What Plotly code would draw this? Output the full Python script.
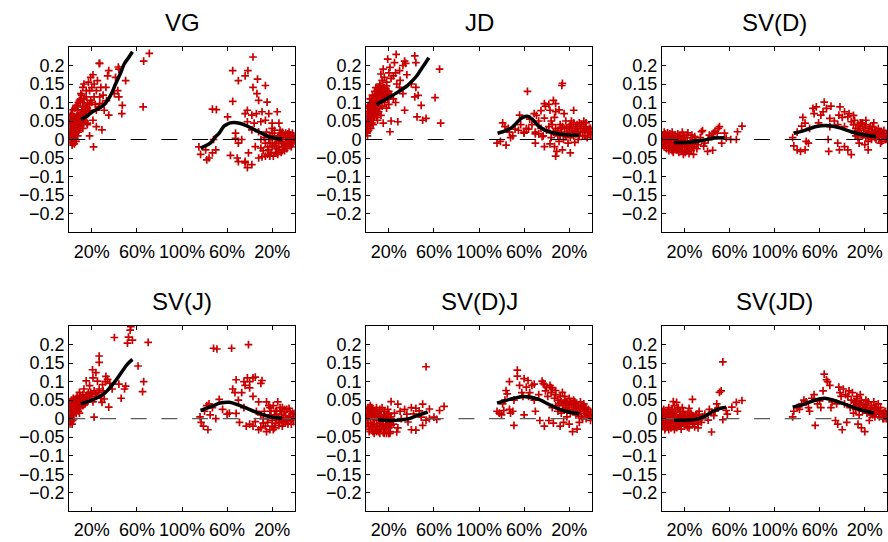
import plotly.graph_objects as go

# ---------------- data ----------------
titles = ["VG", "JD", "SV(D)", "SV(J)", "SV(D)J", "SV(JD)"]
x_tickvals = [20, 60, 100, 140, 180]
x_ticktext = ["20%", "60%", "100%", "60%", "20%"]
y_tickvals = [-0.2, -0.15, -0.1, -0.05, 0, 0.05, 0.1, 0.15, 0.2]
y_ticktext = ["\u22120.2", "\u22120.15", "\u22120.1", "\u22120.05", "0", "0.05", "0.1", "0.15", "0.2"]

VG_POINTS = [
    (0.5,0.01),(1,0.03),(1,-0.005),(1.5,0.02),(2,0.045),(2,0.0),(2.5,0.015),(3,0.035),(3,-0.01),(3.5,0.025),
    (4,0.05),(4,0.005),(4.5,0.04),(5,0.015),(5,0.06),(5.5,0.03),(6,0.045),(6,-0.005),(6.5,0.02),(7,0.055),
    (7,0.035),(7.5,0.01),(8,0.065),(8,0.04),(8.5,0.025),(9,0.05),(9.5,0.07),(10,0.035),(10,0.06),(11,0.045),
    (11,0.08),(12,0.055),(12,0.03),(13,0.07),(14,0.05),(15,0.065),(0.5,0.045),(1.5,0.055),(2.5,-0.015),(3.5,0.06),
    (4.5,-0.012),(16,0.04),(18,0.01),(17,0.075),
    (0.3,0.02),(0.8,0.0),(1.2,0.04),(1.8,0.01),(2.2,0.03),(2.8,0.05),(3.2,0.005),(3.8,0.04),(4.2,0.02),(4.8,0.055),
    (5.2,0.0),(5.8,0.04),(6.2,0.025),(6.8,0.065),(7.2,0.045),(7.8,0.02),(8.2,0.05),(8.8,0.035),(9.2,0.06),(9.8,0.045),
    (10.5,0.07),(11.5,0.06),(12.5,0.045),(13.5,0.06),(14.5,0.075),(0.3,0.06),(1.0,0.065),(2.0,0.07),(3.0,0.08),(5.0,0.085),
    (7.0,0.09),(8.0,0.1),(10,0.11),(11,0.12),(14,0.09),(16,0.085),(18,0.095),(20,0.1),(12,0.1),
    (9,0.106),(10.3,0.124),(12,0.141),(13,0.15),(15,0.115),(16,0.097),(18,0.132),(19,0.168),(21,0.175),(22,0.15),
    (24,0.132),(25,0.159),(26.5,0.206),(27,0.206),(27,0.115),(28,0.141),(29.5,0.097),(31,0.079),(32.5,0.141),(34,0.172),
    (35,0.186),(35,0.066),(29,0.026),(21.5,-0.02),(18,0.079),(15,0.07),(21,0.052),(24,0.035),(12,0.088),(7.4,0.079),
    (6,0.092),(9,0.061),(16,0.044),(24,0.079),(27,0.097),(19,0.106),(13,0.11),(15,0.132),(10,0.101),(22,0.115),
    (43.5,0.196),(44,0.19),(41,0.168),(50,0.159),(44,0.115),(47,0.092),(46.6,0.07),(66,0.212),(71,0.233),(65.5,0.088),
    (43,0.132),(40,0.124),(20,0.14),(17,0.155),(23,0.095),(30,0.12),(26,0.088),(33,0.105),
    (115,-0.02),(116.5,-0.04),(121,-0.028),(124,-0.05),(127,-0.036),(130,-0.028),(122,-0.055),(128,0.0),(127,0.082),(130.5,0.081),
    (140.5,0.061),(143,-0.043),(145,0.103),(147.5,0.017),(149,-0.05),(150,-0.06),(150,0.159),(145,0.186),(158.5,0.186),(156,0.172),
    (163,0.223),(167,0.163),(163,0.141),(166.5,0.124),(168,0.106),(174,0.146),(175.5,0.101),(156,0.07),(158,0.079),(162,0.066),
    (166,0.07),(171,0.075),(177,0.07),(184.5,0.075),(158,0.048),(164,0.044),(170,0.048),(174,0.052),(180,0.044),(186,0.044),
    (162,0.026),(168,0.021),(180,0.017),(156,-0.063),(158,-0.076),(162,-0.068),(156,-0.059),(153,0.0),(159,-0.036),(168,-0.05),
    (171,-0.047),(174,-0.045),(177,-0.028),(180,-0.019),(183,-0.01),(189,-0.01),(193,0.0),(198,0.008),(197,-0.01),(192,-0.019),
    (186,-0.028),(183,-0.036),(174,-0.01),(177,0.0),(187,0.017),(192,0.017),(198,0.017),(180,0.03),(170,-0.023),(165,-0.019),
    (147.5,0.003),(150,-0.01),(185,0.005),(188,-0.005),(190,0.01),(191,-0.015),(194,0.005),(195,-0.005),(196,0.012),(199,0.0),
    (199.5,0.005),(197,-0.02),(193,-0.025),(189,-0.03),(186,-0.02),(184,0.0),(182,-0.015),(179,-0.035),(181,-0.045),(176,-0.04),
    (187,0.025),(195,0.02),(200,-0.005),(178,0.01),(172,-0.03),
    (176,-0.02),(178,-0.01),(180,0.0),(182,0.01),(184,-0.025),(186,0.0),(188,0.012),(190,-0.02),(192,0.005),(193,-0.01),
    (195,0.01),(196,-0.015),(198,-0.005),(199,0.01),(200,0.003),(185,-0.04),(188,-0.035),(191,-0.03),(178,-0.045),(182,0.025),
    (189,0.02),(194,0.015),(197,0.005),(175,0.02),(170,0.0),(173,0.005),
]
VG_FIT_LEFT = [(10.3,0.054),(15,0.062),(20.6,0.075),(29.5,0.09),(34,0.106),(38,0.128),(41,0.15),(45.7,0.181),(48.7,0.204),(53,0.223),(56,0.237)]
VG_FIT_RIGHT = [(116.5,-0.023),(125,-0.01),(130,0.008),(133,0.017),(137,0.035),(140,0.041),(143,0.045),(146,0.046),(151,0.044),(156,0.039),(162,0.03),(168,0.021),(174,0.012),(180,0.005),(185,0.002),(189,0.001)]

JD_POINTS = [
    (0.5,0.02),(1,0.035),(1.5,0.05),(2,0.06),(2.5,0.04),(3,0.075),(3.5,0.055),(4,0.085),(4.5,0.065),(5,0.1),
    (5.5,0.075),(6,0.09),(6.5,0.11),(7,0.06),(7.5,0.095),(8,0.12),(8.5,0.08),(9,0.105),(9.5,0.13),(10,0.09),
    (10.5,0.115),(11,0.14),(11.5,0.1),(12,0.125),(13,0.11),(13.5,0.135),(14,0.09),(15,0.12),(16,0.1),(17,0.13),
    (18,0.085),(19,0.11),(20,0.095),(1,0.07),(2,0.09),(3,0.11),(4,0.03),(5,0.045),(6,0.06),(7,0.08),
    (8,0.07),(9,0.06),(10,0.07),(11,0.075),(12,0.085),(13,0.065),(14,0.16),(16,0.14),(18,0.125),(20,0.13),
    (22,0.12),(24,0.11),(26,0.1),(0.3,0.055),(0.8,0.085),
    (0.5,0.04),(1,0.05),(1.5,0.065),(2,0.075),(2.5,0.085),(3,0.09),(3.5,0.095),(4,0.1),(4.5,0.11),(5,0.07),
    (5.5,0.12),(6,0.1),(6.5,0.085),(7,0.115),(7.5,0.13),(8,0.1),(8.5,0.14),(9,0.12),(9.5,0.09),(10,0.135),
    (10.5,0.1),(11,0.12),(12,0.145),(12.5,0.105),(13,0.13),(14,0.115),(15,0.14),(16,0.12),(17,0.11),(18,0.145),
    (19,0.13),(20,0.115),(3,0.05),(6,0.04),(2,0.025),(1,0.01),(0.3,0.03),
    (26.5,0.23),(19,0.217),(21,0.195),(25,0.208),(34,0.212),(35,0.206),(43,0.226),(44,0.208),(32.5,0.2),(29.5,0.186),
    (15,0.19),(16,0.168),(13,0.177),(12,0.15),(18,0.155),(24,0.172),(27,0.15),(29.5,0.141),(32.5,0.124),(40,0.15),
    (44,0.141),(43,0.115),(46,0.119),(48.7,0.092),(45,0.061),(50,0.052),(53,0.057),(65,0.19),(61,0.113),(66,0.044),
    (34,0.079),(28,0.048),(22,0.05),(15,0.044),(21,0.021),(10,0.052),(6,0.079),(4.4,0.097),(3,0.07),(1.5,0.044),
    (0.6,0.017),(22,0.165),(26,0.18),(30,0.16),(36,0.175),(20,0.18),
    (116,-0.01),(119,-0.005),(124,-0.015),(121,0.045),(123,0.035),(126,0.03),(127,0.02),(130,0.01),(128,0.005),(132,0.028),
    (135,0.025),(137,0.04),(140,0.02),(142,0.03),(143,0.13),(145,0.055),(147,0.04),(150,0.015),(151,0.065),(153,0.05),
    (155,0.078),(158,0.058),(159,0.09),(162,0.095),(164,0.05),(165,0.04),(167,0.06),(168,0.075),(171,0.08),
    (173.5,0.146),(174,0.152),(158,0.097),(166,0.106),(168,0.097),(163,0.079),(175.5,0.07),(184,0.079),(149,0.07),
    (136,0.066),(144,0.028),(140,0.017),(156,0.008),(158,-0.019),(167,-0.019),(168,-0.045),(169,-0.032),(174,-0.028),
    (181,-0.036),(150,-0.01),
    (150,0.02),(153,0.015),(155,0.03),(157,0.01),(160,0.025),(162,0.035),(164,0.005),(166,0.02),(168,0.03),(170,0.01),
    (172,0.04),(173,0.02),(175,0.0),(176,0.03),(178,0.015),(180,0.035),(181,0.005),(183,0.025),(184,0.045),(186,0.015),
    (187,0.03),(188,0.0),(190,0.02),(191,0.04),(192,0.01),(194,0.025),(195,0.035),(196,0.005),(197,0.02),(198,0.03),
    (199,0.012),(200,0.025),(185,-0.008),(179,-0.01),(171,-0.005),(163,-0.012),(182,0.05),(189,0.045),(193,0.05),(177,0.05),
    (170,0.025),(172,0.012),(174,0.035),(176,0.015),(178,0.03),(180,0.02),(182,0.03),(184,0.01),(186,0.035),(188,0.02),
    (189,0.01),(190,0.03),(192,0.02),(193,0.035),(194,0.01),(196,0.025),(198,0.02),(199,0.03),(200,0.01),(185,0.022),
    (181,0.04),(177,0.008),(173,0.03),(195,0.045),(187,0.04),
]
JD_FIT_LEFT = [(9,0.095),(15,0.105),(20.6,0.115),(27,0.126),(32.5,0.137),(37,0.147),(41,0.159),(45,0.173),(48.7,0.19),(52,0.205),(55.5,0.221)]
JD_FIT_RIGHT = [(116.5,0.017),(124,0.024),(129,0.032),(133,0.044),(136,0.053),(139,0.06),(143,0.063),(147.5,0.054),(153,0.036),(158,0.026),(162,0.021),(171,0.015),(180,0.012),(189,0.012)]

SVD_POINTS = [
    (0.5,0.0),(1,0.01),(1,-0.01),(2,0.005),(2,-0.02),(3,0.015),(3,-0.005),(4,0.0),(4,-0.025),(5,0.01),
    (5,-0.015),(6,0.005),(6,-0.03),(7,-0.01),(7,0.015),(8,0.0),(8,-0.02),(9,-0.03),(9,0.008),(10,-0.012),
    (10,-0.035),(11,0.002),(11,-0.022),(12,-0.008),(12,0.012),(13,-0.028),(13,0.0),(14,-0.015),(15,0.005),(15,-0.035),
    (16,-0.02),(17,0.0),(17,-0.03),(18,-0.01),(19,-0.04),(19,0.01),(20,-0.02),(21,-0.005),(22,-0.03),(22,0.012),
    (23,-0.015),(24,-0.038),(25,-0.005),(25,-0.025),(26,0.005),(27,-0.02),(28,-0.04),(29,-0.01),(30,0.0),(31,-0.025),
    (2,0.02),(5,0.018),(9,0.02),(14,0.015),(18,0.02),(23,0.018),(0.5,-0.015),(1.5,0.012),
    (0.5,-0.01),(1.5,-0.005),(2.5,0.0),(3.5,-0.015),(4.5,0.005),(5.5,-0.01),(6.5,-0.02),(7.5,0.0),(8.5,-0.01),(9.5,-0.02),
    (10.5,0.0),(11.5,-0.012),(12.5,-0.025),(13.5,-0.005),(14.5,-0.03),(15.5,-0.01),(16.5,-0.005),(17.5,-0.02),(18.5,-0.028),(19.5,-0.012),
    (20.5,-0.035),(21.5,-0.02),(22.5,-0.005),(23.5,-0.028),(24.5,-0.015),(26,-0.03),(27,-0.01),(28,-0.02),(3,0.008),(7,0.005),
    (11,0.01),(16,0.008),(20,0.005),
    (32,-0.014),(35,0.021),(36,0.024),(41,0.0),(40.5,-0.032),(45,-0.029),(44,0.008),(45.5,0.017),(50,0.03),(51,0.035),
    (49,0.017),(53,-0.01),(55.5,0.017),(57,0.004),(61,0.0),(66,0.0),(67,0.021),(71,0.036),(38,-0.01),(29,0.008),
    (26.5,0.012),(34,0.005),(37,-0.018),(42,0.012),(47,0.022),
    (117,-0.017),(120,-0.028),(123,-0.032),(127,-0.028),(128,-0.005),(130,-0.01),(125,0.06),(127,0.044),(124,0.036),(134,0.084),
    (135,0.07),(137,0.088),(141,0.066),(143,0.075),(144,0.101),(146,0.084),(150,0.09),(149,0.057),(149,0.035),(147.5,0.0),
    (148,-0.032),(156,-0.01),(157.5,-0.028),(162,-0.019),(165,-0.028),(168,-0.041),(158,0.088),(157,0.066),(162,0.075),(165,0.061),
    (166,0.07),(168,0.048),(171,0.052),(174,0.04),(177,0.044),(181,0.052),(183,-0.028),(180,-0.014),(175,-0.01),(174,0.004),
    (171,0.017),(162,0.035),(156,0.04),(116,0.005),(120,0.02),(131,0.03),(139,0.045),(153,0.05),(160,0.06),(170,0.065),
    (172,0.03),(174,0.02),(176,0.035),(178,0.01),(179,0.025),(181,0.04),(182,0.015),(184,0.03),(185,0.005),(186,0.02),
    (187,0.035),(188,0.01),(189,0.025),(190,0.0),(191,0.015),(192,0.03),(193,0.005),(194,0.02),(195,-0.005),(196,0.01),
    (197,0.025),(198,0.0),(199,0.015),(200,0.005),(183,-0.005),(178,0.045),(188,0.045),(194,-0.01),
    (172,0.01),(175,0.025),(177,0.015),(180,0.03),(183,0.02),(185,0.035),(187,0.015),(190,0.025),(192,0.01),(195,0.02),
    (197,0.008),(199,0.0),(186,0.0),(189,0.005),(193,0.018),(181,0.005),(176,0.045),(170,0.04),
]
SVD_FIT_LEFT = [(10.6,-0.008),(20,-0.008),(29,-0.006),(38,-0.001),(46.6,0.004),(55.5,0.005)]
SVD_FIT_RIGHT = [(117,0.017),(126,0.024),(137,0.035),(146,0.038),(156,0.033),(168,0.021),(180,0.012),(190,0.008)]

SVJ_POINTS = [
    (0.5,0.0),(1,0.02),(1,-0.01),(2,0.03),(2,0.01),(3,-0.005),(3,0.04),(4,0.02),(4,0.0),(5,0.035),
    (5,0.05),(6,0.015),(6,0.045),(7,0.03),(7,0.06),(8,0.02),(8,0.05),(9,0.04),(10,0.03),(10,0.06),
    (11,0.045),(12,0.035),(12,0.065),(13,0.05),(14,0.04),(15,0.06),(16,0.045),(17,0.07),(18,0.055),(20,0.065),
    (21,0.045),(0.5,0.03),(1.5,0.045),(2.5,-0.015),(3.5,0.055),(0.5,-0.015),(22,0.075),(24,0.06),(26,0.07),(28,0.055),
    (30,0.075),(2,0.05),(9,0.015),
    (0.3,0.01),(0.8,0.025),(1.2,0.005),(1.8,0.035),(2.2,0.02),(2.8,0.045),(3.2,0.01),(3.8,0.03),(4.2,0.05),(4.8,0.025),
    (5.2,0.04),(5.8,0.03),(6.2,0.055),(6.8,0.04),(7.2,0.025),(7.8,0.045),(8.2,0.035),(8.8,0.055),(9.2,0.03),(10,0.045),
    (11,0.055),(12,0.05),(13,0.04),(14,0.055),(15,0.045),(16,0.065),(18,0.06),(1,0.04),(2,-0.005),(0.5,0.045),
    (54.6,0.248),(54,0.239),(52.5,0.22),(51.6,0.204),(56,0.212),(40,0.219),(70,0.206),(61,0.142),(66,0.1),(65,0.073),
    (26.5,0.169),(26.5,0.152),(20.6,0.132),(23.6,0.124),(32.5,0.114),(34,0.106),(44,0.093),(49,0.08),(46,0.055),(50,0.088),
    (35,0.031),(29,0.044),(22,0.004),(15,0.102),(18,0.089),(13,0.08),(9,0.071),(19,0.071),(23.6,0.066),(26.5,0.08),
    (29.5,0.092),(25,0.101),(12,0.053),(16,0.061),(31,0.053),(38,0.08),(36,0.095),(32,0.1),(21,0.11),
    (116,0.005),(117,-0.01),(119,-0.02),(123,-0.03),(120,0.02),(125,0.01),(122,0.035),(124,0.04),(127,0.03),(130,0.0),
    (133,0.052),(128,0.19),(131,0.188),(144,0.19),(159,0.2),(145,0.08),(147,0.07),(140,0.012),(142,0.015),(148,0.105),
    (155,0.1),(158,0.11),(160,0.1),(163,0.11),(165,0.112),(156,0.09),(160,0.083),(163,0.06),(170,0.095),(171,0.103),
    (153,0.07),(150,0.05),(151,-0.01),(157,-0.02),(160,-0.015),(163,-0.02),(165,-0.008),(168,-0.03),(170,-0.025),(172,-0.012),
    (175,-0.035),(178,-0.03),(180,-0.02),(183,-0.012),(186,-0.01),(188,-0.005),(190,0.003),(192,-0.008),(195,0.005),(198,0.0),
    (199,0.012),(197,-0.015),(175,0.045),(178,0.03),(181,0.035),(184,0.022),(185,0.045),(187,0.02),(189,0.03),(193,0.025),
    (196,0.02),(200,0.015),(168,0.045),(166,0.02),(182,0.01),(176,0.0),(173,0.02),(170,0.01),(186,0.003),(191,0.018),
    (194,-0.003),(155,0.03),(148,0.014),(136,0.025),
    (172,0.0),(174,-0.02),(176,-0.01),(178,0.01),(180,-0.005),(182,-0.025),(184,0.0),(186,-0.018),(188,0.012),(190,-0.01),
    (192,0.008),(194,-0.015),(196,0.0),(198,0.015),(200,0.005),(183,0.02),(187,0.03),(191,0.025),(195,0.028),(179,0.02),
    (177,0.035),(181,-0.03),(189,-0.02),(193,-0.005),(199,-0.008),
]
SVJ_FIT_LEFT = [(10.3,0.04),(20.6,0.051),(29.5,0.064),(35,0.08),(41,0.102),(47,0.128),(51.6,0.147),(56,0.16)]
SVJ_FIT_RIGHT = [(116.5,0.022),(127,0.034),(134,0.042),(142,0.044),(150,0.037),(162,0.022),(174,0.009),(181,0.003),(189,0.002)]

SVDJ_POINTS = [
    (0.5,0.0),(1,0.012),(1,-0.012),(2,0.02),(2,-0.02),(3,0.005),(3,-0.03),(4,0.015),(4,-0.01),(5,0.025),
    (5,-0.025),(6,0.0),(6,-0.035),(7,0.02),(7,-0.015),(8,0.008),(8,-0.03),(9,0.03),(9,-0.005),(10,-0.02),
    (10,0.015),(11,-0.035),(11,0.0),(12,0.025),(12,-0.012),(13,-0.028),(13,0.01),(14,-0.005),(14,0.03),(15,-0.02),
    (15,-0.038),(16,0.005),(16,0.02),(17,-0.015),(17,-0.03),(18,0.01),(18,-0.04),(19,-0.005),(19,0.025),(20,-0.025),
    (20,0.012),(21,-0.035),(22,0.0),(22,-0.018),(0.5,0.02),(0.5,-0.02),(1.5,0.03),(2.5,-0.035),(3.5,0.035),
    (0.3,0.005),(1.5,0.0),(2.5,0.01),(3.5,-0.02),(4.5,0.025),(5.5,0.01),(6.5,-0.015),(7.5,0.005),(8.5,0.02),(9.5,-0.03),
    (10.5,0.005),(11.5,-0.02),(12.5,0.0),(13.5,0.02),(14.5,-0.015),(15.5,0.01),(16.5,-0.025),(17.5,0.0),(18.5,-0.02),(19.5,0.015),
    (20.5,-0.01),(21.5,0.005),(1,0.025),(3,0.03),(5,0.03),(7,-0.04),(9,-0.035),(12,-0.04),(16,-0.04),(20,-0.04),
    (53,0.14),(22,0.046),(28,0.039),(34,0.025),(40,0.03),(44,0.028),(50,0.039),(56,0.026),(65,0.022),(69,0.033),
    (53,-0.004),(50,-0.018),(44,-0.031),(40,-0.03),(27,-0.036),(21,-0.04),(31,0.0),(37,-0.009),(48.7,0.004),(56,0.0),
    (60,0.004),(62.5,-0.002),(42,0.013),(47,0.021),(25,0.015),(30,0.02),(36,0.012),(24,-0.015),(28,-0.025),
    (116,0.02),(118,0.015),(120,0.01),(121,0.04),(123,0.05),(124,0.076),(125,0.067),(127,0.1),(127,0.025),(128,0.015),
    (130,0.02),(131,0.05),(134,0.131),(134,0.115),(136,0.09),(138,0.07),(139,0.06),(140,0.108),(143.5,0.103),(142,0.085),
    (144,0.06),(145,0.07),(147,0.09),(149,0.093),(149,0.05),(153,0.065),(154,-0.005),(156,0.101),(157,0.095),(158,0.092),
    (159,0.075),(160,0.085),(161,0.06),(163,0.09),(164,0.084),(164,0.07),(165,0.08),(167,0.055),(168,0.076),(168,0.065),
    (170,0.05),(172,0.06),(174,0.071),(174,0.04),(176,0.05),(178,0.045),(180,0.035),(182,0.04),(184,0.03),(186,0.025),
    (188,0.035),(190,0.02),(192,0.03),(194,0.015),(196,0.02),(198,0.01),(200,0.015),(158,-0.02),(162,-0.005),(166,-0.012),
    (172,-0.02),(175,-0.01),(178,0.005),(180,-0.015),(183,-0.035),(187,-0.028),(189,-0.01),(191,0.005),(195,0.0),(199,-0.005),
    (131,-0.018),(165,0.03),(170,0.02),(175,0.025),(168,0.035),(185,0.045),(190,0.045),(193,0.04),(186,0.01),(181,0.015),
    (177,0.03),(173,0.015),(197,0.025),(140,0.01),(150,0.02),(122,0.022),
    (171,0.04),(173,0.045),(175,0.035),(177,0.04),(179,0.025),(181,0.045),(183,0.02),(185,0.035),(187,0.015),(189,0.025),
    (191,0.035),(193,0.02),(195,0.03),(197,0.01),(199,0.02),(200,0.005),(184,0.05),(188,0.01),(192,0.0),(196,0.01),
    (176,0.06),(180,0.055),(186,0.04),(190,0.03),(194,0.025),
]
SVDJ_FIT_LEFT = [(10.3,-0.003),(20.6,-0.005),(29.5,-0.004),(38,0.0),(45.7,0.009),(54.5,0.018)]
SVDJ_FIT_RIGHT = [(116,0.042),(127,0.052),(139,0.06),(145,0.058),(153,0.052),(165,0.034),(177,0.02),(189,0.013)]

SVJD_POINTS = [
    (0.5,0.0),(1,0.012),(1,-0.012),(2,0.02),(2,-0.02),(3,0.005),(3,-0.025),(4,0.015),(4,-0.01),(5,0.022),
    (5,-0.02),(6,0.0),(6,-0.03),(7,0.018),(7,-0.012),(8,0.006),(8,-0.025),(9,0.025),(9,-0.005),(10,-0.018),
    (10,0.012),(11,-0.03),(11,0.0),(12,0.02),(12,-0.01),(13,-0.024),(13,0.008),(14,-0.005),(14,0.025),(15,-0.018),
    (16,0.005),(16,0.018),(17,-0.015),(17,-0.028),(18,0.01),(19,-0.005),(19,0.02),(20,-0.02),(21,0.008),(22,-0.012),
    (23,0.015),(24,-0.025),(25,0.0),(26,0.012),(27,-0.015),(28,0.005),(29,-0.022),(30,0.01),(31,-0.005),(33,0.008),
    (0.5,0.02),(0.5,-0.02),(1.5,0.025),(2.5,-0.03),(35,-0.01),
    (0.3,0.008),(1.5,-0.005),(2.5,0.012),(3.5,-0.015),(4.5,0.005),(5.5,-0.01),(6.5,0.012),(7.5,-0.02),(8.5,0.0),(9.5,0.015),
    (10.5,-0.008),(11.5,0.01),(12.5,-0.018),(13.5,0.0),(14.5,-0.012),(15.5,0.01),(16.5,-0.02),(17.5,0.005),(18.5,-0.012),(19.5,0.008),
    (20.5,-0.008),(21.5,0.0),(22.5,-0.022),(23.5,0.005),(24.5,-0.01),(25.5,0.015),(26.5,-0.005),(27.5,0.008),(28.5,-0.012),(29.5,0.0),
    (31,0.012),(32,-0.015),(34,0.0),(6,0.03),(11,0.035),(18,0.03),(24,0.028),
    (54,0.153),(51,0.071),(52.5,0.075),(48.6,0.04),(47,0.02),(44,-0.036),(57,0.022),(66,0.044),(67,0.02),(71,0.049),
    (62,0.031),(54,-0.003),(41,-0.004),(32,-0.025),(27,0.052),(13,0.044),(10,0.046),(14.5,0.03),(33,0.02),(44,0.017),
    (46,0.008),(38,0.012),(42,0.025),(50,0.03),(58,0.012),(36,0.005),
    (116,0.005),(117,0.02),(120,0.03),(122,0.025),(124,0.04),(126,0.05),(128,0.045),(130,0.03),(131,0.02),(133,0.055),
    (135,0.065),(136,-0.018),(138,0.04),(140,0.048),(141,0.03),(143,0.075),(144,0.12),(146,0.105),(147,0.1),(149,0.09),
    (150,0.03),(151,0.045),(154,-0.005),(156,-0.015),(157,0.085),(158,0.07),(159,0.06),(160,-0.03),(161,0.08),(163,0.065),
    (164,-0.01),(165,0.06),(166,0.075),(168,0.05),(169,0.07),(171,0.045),(173,0.055),(174,-0.015),(175,0.04),(176,0.065),
    (177,-0.025),(179,0.04),(180,-0.035),(181,0.03),(183,0.045),(184,-0.005),(185,0.025),(186,0.035),(187,0.01),(189,0.03),
    (190,0.015),(191,0.025),(193,0.005),(194,0.02),(195,0.01),(196,0.0),(197,0.015),(199,0.005),(200,0.012),(182,0.015),
    (178,0.02),(172,0.025),(167,0.03),(162,0.04),(155,0.04),(192,0.04),(188,0.045),(170,0.015),(175,0.01),
    (170,0.035),(172,0.045),(174,0.03),(176,0.04),(178,0.035),(180,0.025),(182,0.04),(184,0.02),(186,0.03),(188,0.015),
    (190,0.03),(192,0.02),(194,0.03),(196,0.015),(198,0.02),(199,0.0),(200,0.02),(185,0.01),(189,0.005),(193,0.012),
    (197,0.0),(181,0.05),(177,0.05),(173,0.06),
]
SVJD_FIT_LEFT = [(10.6,-0.004),(20,-0.004),(30,-0.002),(38,0.006),(45.5,0.02),(51,0.027),(57,0.031)]
SVJD_FIT_RIGHT = [(116,0.031),(127,0.04),(135,0.049),(144,0.055),(153,0.049),(165,0.036),(176,0.024),(188,0.015)]

PANELS = [
    (VG_POINTS, VG_FIT_LEFT, VG_FIT_RIGHT),
    (JD_POINTS, JD_FIT_LEFT, JD_FIT_RIGHT),
    (SVD_POINTS, SVD_FIT_LEFT, SVD_FIT_RIGHT),
    (SVJ_POINTS, SVJ_FIT_LEFT, SVJ_FIT_RIGHT),
    (SVDJ_POINTS, SVDJ_FIT_LEFT, SVDJ_FIT_RIGHT),
    (SVJD_POINTS, SVJD_FIT_LEFT, SVJD_FIT_RIGHT),
]

# ---------------- layout ----------------
W, H = 888, 542
FONT = "Liberation Sans, Arial, Helvetica, sans-serif"
XTICK_SIZE = 18
YTICK_SIZE = 18
col_dom = [(69.3, 294.7), (366.3, 591.7), (662.0, 887.3)]
row_dom = [(47.0, 232.0), (326.0, 511.3)]
zero_colors = ["#000000", "#5a5a5a"]
RED = "#c80000"

fig = go.Figure()
layout = dict(
    width=W, height=H, margin=dict(l=0, r=0, t=0, b=0, autoexpand=False),
    paper_bgcolor="white", plot_bgcolor="white", showlegend=False,
    font=dict(family=FONT, size=18, color="black"),
    annotations=[],
)

for i, (pts, fl, fr) in enumerate(PANELS):
    r, c = divmod(i, 3)
    n = i + 1
    xa = "x" if n == 1 else f"x{n}"
    ya = "y" if n == 1 else f"y{n}"
    x0, x1 = col_dom[c]
    y0, y1 = row_dom[r]
    xkey = "xaxis" if n == 1 else f"xaxis{n}"
    ykey = "yaxis" if n == 1 else f"yaxis{n}"
    layout[xkey] = dict(
        domain=[x0 / W, x1 / W], anchor=ya, range=[0, 200],
        tickvals=x_tickvals, ticktext=x_ticktext, tickangle=0, automargin=False,
        ticks="inside", ticklen=4, tickwidth=1, tickcolor="black",
        showline=True, linecolor="black", linewidth=1.2, mirror="ticks",
        showgrid=False, zeroline=False, ticklabelstandoff=3 if r == 0 else 2,
        tickfont=dict(family=FONT, size=XTICK_SIZE, color="black"),
    )
    layout[ykey] = dict(
        domain=[1 - y1 / H, 1 - y0 / H], anchor=xa, range=[-0.25, 0.25],
        tickvals=y_tickvals, ticktext=y_ticktext, automargin=False,
        ticks="inside", ticklen=4, tickwidth=1, tickcolor="black",
        showline=True, linecolor="black", linewidth=1.2, mirror="ticks",
        showgrid=False, zeroline=False,
        tickfont=dict(family=FONT, size=YTICK_SIZE, color="black"),
    )
    layout["annotations"].append(dict(
        text=titles[i], xref="paper", yref="paper",
        x=(x0 + x1) / 2 / W, y=1 - (y0 - 25) / H,
        xanchor="center", yanchor="middle", showarrow=False,
        font=dict(family=FONT, size=24, color="black"),
    ))

    px = [p[0] for p in pts]
    py = [p[1] for p in pts]
    fig.add_trace(go.Scatter(
        x=px, y=py, mode="markers", xaxis=xa, yaxis=ya, hoverinfo="skip",
        marker=dict(symbol="cross-thin", size=5.5, color=RED,
                    line=dict(color=RED, width=1.7)),
    ))
    fig.add_trace(go.Scatter(
        x=[0, 200], y=[0, 0], mode="lines", xaxis=xa, yaxis=ya, hoverinfo="skip",
        line=dict(color=zero_colors[r], width=1.2, dash="16px,14.7px"),
    ))
    for fit in (fl, fr):
        fig.add_trace(go.Scatter(
            x=[p[0] for p in fit], y=[p[1] for p in fit], mode="lines",
            xaxis=xa, yaxis=ya, hoverinfo="skip",
            line=dict(color="black", width=3.5, shape="spline", smoothing=1.0),
        ))

fig.update_layout(**layout)
fig.write_html("out.html")
